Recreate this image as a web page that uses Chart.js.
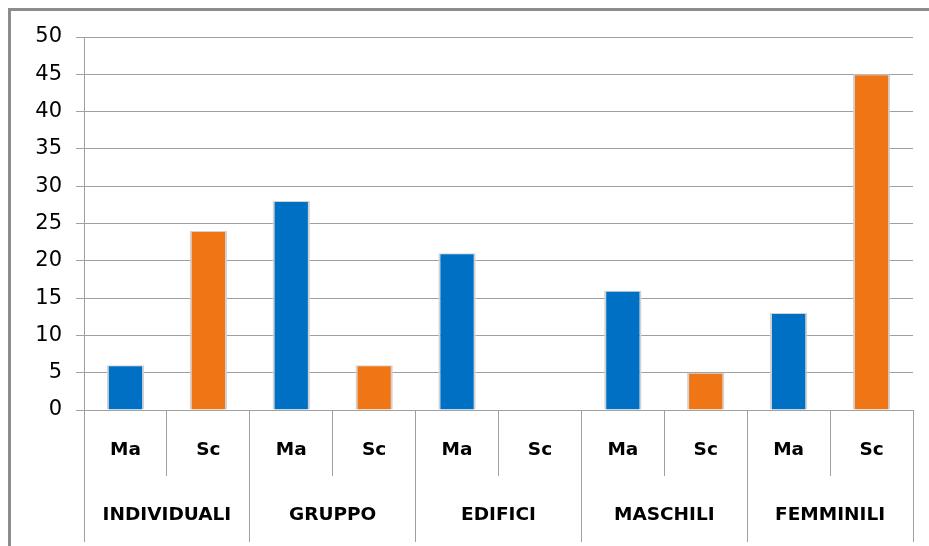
<!DOCTYPE html>
<html>
<head>
<meta charset="utf-8">
<script src="https://cdn.jsdelivr.net/npm/chart.js@4.4.0/dist/chart.umd.min.js"></script>
<style>
  html, body { margin: 0; padding: 0; background: #fff; overflow: hidden; width: 929px; height: 546px; }
  #frameTop { position: absolute; left: 8px; top: 8px; width: 921px; height: 3px; background: #8c8c8c; }
  #frameLeft { position: absolute; left: 8px; top: 8px; width: 3px; height: 538px; background: #8c8c8c; }
  #wrap { position: absolute; left: 0; top: 0; width: 920px; height: 546px; }
</style>
</head>
<body>
<div id="frameTop"></div>
<div id="frameLeft"></div>
<div id="wrap"><canvas id="chart"></canvas></div>
<script>
// categories (two levels) and values
const subLabels = ["Ma", "Sc", "Ma", "Sc", "Ma", "Sc", "Ma", "Sc", "Ma", "Sc"];
const groupLabels = ["INDIVIDUALI", "GRUPPO", "EDIFICI", "MASCHILI", "FEMMINILI"];
const values = [6, 24, 28, 6, 21, 0, 16, 5, 13, 45];
const yTicks = [0, 5, 10, 15, 20, 25, 30, 35, 40, 45, 50];

const BLUE = "#0070c4";
const ORANGE = "#f07514";
const GRID = "#a0a0a0";

const barColors = subLabels.map(l => (l === "Ma" ? BLUE : ORANGE));

const ctx = document.getElementById("chart").getContext("2d");

new Chart(ctx, {
  type: "bar",
  data: {
    labels: subLabels,
    datasets: [
      {
        label: "valori",
        data: values,
        backgroundColor: barColors,
        borderColor: "#d2d2d2",
        borderWidth: { left: 2, right: 2, top: 1, bottom: 0 },
        borderSkipped: false,
        barPercentage: 0.45,
        categoryPercentage: 1,
      },
    ],
  },
  options: {
    responsive: true,
    maintainAspectRatio: false,
    animation: false,
    layout: {
      padding: { left: 0, right: 7, top: 37, bottom: 0 },
    },
    plugins: {
      legend: { display: false },
      tooltip: { enabled: false },
    },
    scales: {
      x: {
        type: "category",
        position: "bottom",
        weight: 0,
        offset: true,
        grid: {
          offset: true,
          drawOnChartArea: false,
          tickLength: 66,
          color: GRID,
        },
        border: { display: true, color: GRID },
        ticks: {
          autoSkip: false,
          maxRotation: 0,
          padding: -37,
          color: "#000",
          font: { family: "DejaVu Sans", size: 18.5, weight: "bold" },
        },
        afterFit: (scale) => { scale.height = 66; },
      },
      xg: {
        type: "category",
        labels: groupLabels,
        position: "bottom",
        weight: 1,
        offset: true,
        grid: {
          offset: true,
          drawOnChartArea: false,
          tickLength: 66,
          color: GRID,
        },
        border: { display: false },
        ticks: {
          autoSkip: false,
          maxRotation: 0,
          padding: -38,
          color: "#000",
          font: { family: "DejaVu Sans", size: 18.5, weight: "bold" },
        },
        afterFit: (scale) => { scale.height = 70; },
      },
      y: {
        min: 0,
        max: 50,
        afterBuildTicks: (scale) => {
          scale.ticks = yTicks.map(v => ({ value: v }));
        },
        grid: { color: GRID, tickLength: 8 },
        border: { display: true, color: GRID },
        ticks: {
          padding: 14,
          color: "#000",
          font: { family: "DejaVu Sans", size: 21 },
        },
        afterFit: (scale) => { scale.width = 84; },
      },
    },
  },
});
</script>
</body>
</html>
